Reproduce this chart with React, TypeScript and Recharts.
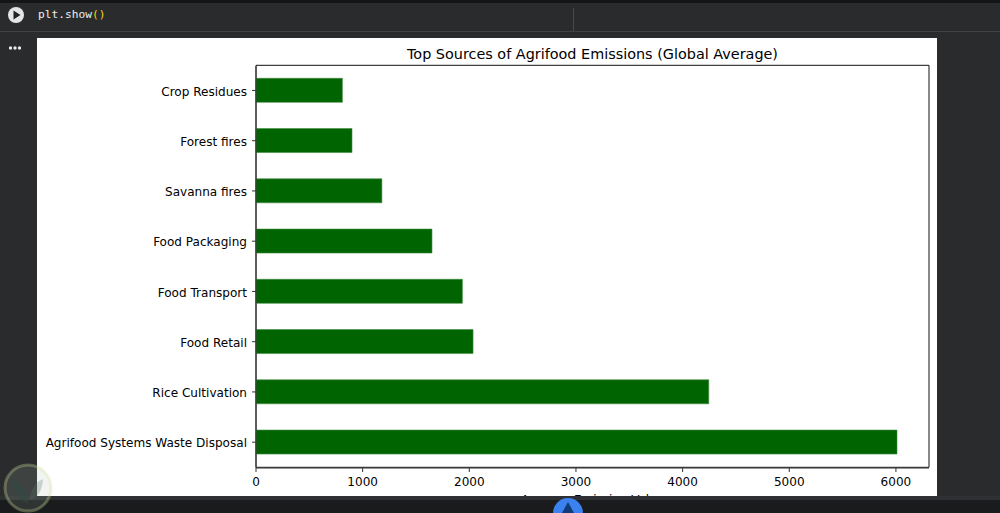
import { Bar, BarChart, ReferenceArea, XAxis, YAxis } from "recharts";

const sources = [
  "Crop Residues",
  "Forest fires",
  "Savanna fires",
  "Food Packaging",
  "Food Transport",
  "Food Retail",
  "Rice Cultivation",
  "Agrifood Systems Waste Disposal",
];
const emissions = [810, 900, 1180, 1650, 1935, 2035, 4245, 6010];
const xTicks = [0, 1000, 2000, 3000, 4000, 5000, 6000];
const xMax = 6310;

const data = sources.map((source, i) => ({ source, value: emissions[i] }));

const font = "'DejaVu Sans', sans-serif";
const tickStyle = { fill: "#000", fontSize: 12.05, fontFamily: font };

function Toolbar() {
  return (
    <>
      <div style={{ position: "absolute", left: 0, top: 0, width: 1000, height: 3, background: "#141517" }} />
      <div style={{ position: "absolute", left: 0, top: 31, width: 1000, height: 1, background: "#404245" }} />
      <div style={{ position: "absolute", left: 573, top: 8, width: 1, height: 23, background: "#48494c" }} />
      <svg width={18} height={18} style={{ position: "absolute", left: 7, top: 6 }}>
        <circle cx={9} cy={9} r={8} fill="#e4e5e7" />
        <path d="M6.5 4.5 L13.5 9 L6.5 13.5 Z" fill="#222" />
      </svg>
      <div style={{ position: "absolute", left: 38, top: 8, fontFamily: "'DejaVu Sans Mono', monospace", fontSize: 11.2, color: "#eeeeee" }}>
        plt.show<span style={{ color: "#f5d90a" }}>()</span>
      </div>
      <svg width={16} height={6} style={{ position: "absolute", left: 8, top: 45 }}>
        <circle cx={2.5} cy={3} r={1.7} fill="#e8e8e8" />
        <circle cx={7} cy={3} r={1.7} fill="#e8e8e8" />
        <circle cx={11.5} cy={3} r={1.7} fill="#e8e8e8" />
      </svg>
    </>
  );
}

// faint logo stamped over the screenshot's bottom-left corner
function Watermark() {
  return (
    <svg width={52} height={52} style={{ position: "absolute", left: 2, top: 462 }}>
      <circle cx={26} cy={26} r={23} fill="rgba(170,185,170,0.16)" stroke="rgba(205,225,160,0.32)" strokeWidth={3} />
      <path d="M10 17 Q25 22 26 42 Q12 36 10 17 Z" fill="rgba(45,75,70,0.5)" />
      <path d="M41 17 Q29 22 28 38 Q40 34 41 17 Z" fill="rgba(90,120,110,0.28)" />
    </svg>
  );
}

export default function App() {
  return (
    <div style={{ position: "relative", width: 1000, height: 513, background: "#2a2b2d", overflow: "hidden" }}>
      <style>{"body{margin:0}"}</style>
      <Toolbar />
      <div style={{ position: "absolute", left: 37, top: 38, width: 900, height: 458, background: "#fff", overflow: "hidden" }}>
        <div style={{ position: "absolute", left: 219, width: 673, top: 6, textAlign: "center", fontFamily: font, fontSize: 14.4, lineHeight: "20px", color: "#000" }}>
          Top Sources of Agrifood Emissions (Global Average)
        </div>
        <BarChart
          width={900}
          height={480}
          layout="vertical"
          data={data}
          margin={{ top: 28, right: 8, bottom: 0, left: 0 }}
        >
          <XAxis
            type="number"
            domain={[0, xMax]}
            ticks={xTicks}
            interval={0}
            tick={tickStyle}
            tickSize={4}
            tickMargin={5}
            stroke="#333"
            height={50}
            label={{ value: "Average Emission Value", position: "insideBottom", offset: 14.5, fill: "#000", fontSize: 12, fontFamily: font }}
          />
          <YAxis
            type="category"
            dataKey="source"
            width={219}
            interval={0}
            padding={{ top: -0.7, bottom: 0.7 }}
            tick={{ ...tickStyle, dy: 1 }}
            tickSize={4}
            tickMargin={5}
            stroke="#333"
          />
          <Bar dataKey="value" barSize={24} fill="#006400" stroke="#3f8a3f" strokeWidth={0.6} isAnimationActive={false} />
          <ReferenceArea x1={0} x2={xMax} fill="none" stroke="#111" strokeWidth={1} ifOverflow="visible" />
        </BarChart>
      </div>
      <div style={{ position: "absolute", left: 0, top: 496, width: 1000, height: 4, background: "#2f3033" }} />
      <div style={{ position: "absolute", left: 0, top: 500, width: 1000, height: 13, background: "#1a1b1c" }} />
      <svg width={32} height={16} style={{ position: "absolute", left: 552, top: 497 }}>
        <circle cx={16} cy={16} r={15} fill="#3b82f0" />
        <path d="M16 5 L22 16 L10 16 Z" fill="#123a78" />
      </svg>
      <Watermark />
    </div>
  );
}
